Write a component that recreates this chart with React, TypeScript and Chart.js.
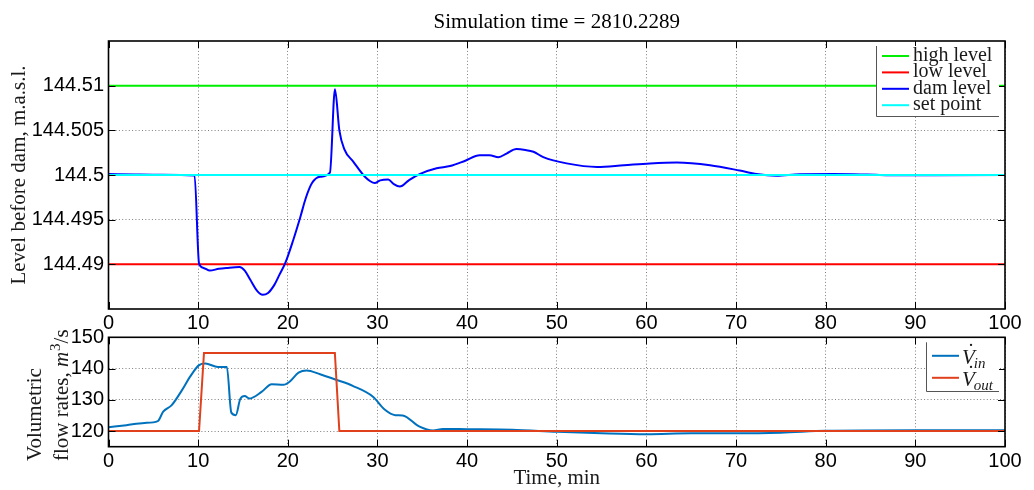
import React, { useEffect, useRef } from 'react';
import { Chart, registerables } from 'chart.js';

Chart.register(...registerables);

// ---------- data ----------
const TITLE = 'Simulation time = 2810.2289';
const X_TICKS = [0, 10, 20, 30, 40, 50, 60, 70, 80, 90, 100];
const LEVEL_TICKS = [144.49, 144.495, 144.5, 144.505, 144.51];
const FLOW_TICKS = [120, 130, 140, 150];
const LEVEL_Y_TITLE = 'Level before dam, m.a.s.l.';
const X_TITLE = 'Time, min';

const HIGH_LEVEL = 144.51;
const LOW_LEVEL = 144.49;
const SET_POINT = 144.5;

const damTime = [0, 3, 6, 9.6, 10.1, 10.6, 11.3, 12.3, 13.2, 14.6, 15.2, 15.8, 16.6, 17.2, 17.8, 18.5, 19.1, 19.7, 20.6, 21.4, 22.0, 22.7, 23.6, 24.7, 25.26, 25.75, 26.3, 27.3, 28.6, 29.2, 29.7, 30.3, 31.2, 31.8, 32.5, 33.5, 34.7, 36.6, 38.1, 39.8, 41.4, 42.5, 43.5, 44.4, 45.5, 46.5, 47.4, 48.5, 51.1, 54.5, 57.5, 60.4, 63.4, 67.1, 70.4, 72.3, 74.5, 77.1, 80.8, 84.6, 88.3, 92, 100];
const damLevel = [144.5001, 144.50005, 144.50002, 144.49995, 144.4901, 144.4896, 144.4893, 144.4895, 144.4896, 144.4897, 144.4893, 144.4883, 144.487, 144.48659, 144.4868, 144.4877, 144.4889, 144.4901, 144.4927, 144.4953, 144.4974, 144.4991, 144.4998, 144.50026, 144.5096, 144.505, 144.5029, 144.5015, 144.4998, 144.4993, 144.4991, 144.4994, 144.4995, 144.499, 144.4987, 144.4994, 144.5001, 144.50075, 144.501, 144.5016, 144.5022, 144.5022, 144.502, 144.5024, 144.5029, 144.5028, 144.5026, 144.502, 144.5013, 144.5009, 144.5011, 144.5013, 144.5014, 144.5011, 144.5005, 144.5001, 144.49992, 144.50008, 144.5001, 144.50005, 144.49997, 144.49998, 144.5];

const vinTime = [0, 2, 4, 5.5, 6.1, 7.05, 8.2, 9.1, 10.1, 10.8, 12.2, 13.2, 13.7, 14.2, 14.7, 15.2, 15.7, 17.1, 18.2, 19.5, 20.2, 21.2, 22.1, 23.6, 25.3, 27.3, 29.5, 30.8, 32.0, 32.8, 34.7, 36.2, 37.3, 40, 45, 50, 55, 60, 65, 70, 75, 80, 90, 100];
const vinFlow = [121.2, 121.9, 122.6, 123.2, 126.2, 128.3, 133.1, 137.4, 141.1, 141.6, 140.5, 140.5, 125.9, 125.1, 130.3, 131.2, 130.4, 132.6, 135.0, 134.8, 135.8, 138.7, 139.4, 138.2, 136.5, 134.4, 131.0, 126.9, 125.1, 125.0, 121.4, 120.2, 120.7, 120.6, 120.4, 119.8, 119.3, 119.0, 119.3, 119.3, 119.5, 120.1, 120.3, 120.3];

const voutTime = [0, 10.1, 10.65, 25.25, 25.75, 100];
const voutFlow = [120, 120, 145, 145, 120, 120];

// ---------- style ----------
const SERIF = '"Liberation Serif", "DejaVu Serif", serif';
const SANS = '"Liberation Sans", Arial, sans-serif';
const TEXT = '#1a1a1a';
const GRID = 'rgba(0,0,0,0.5)';
const Y_AXIS_W = 108.5;
const TICK_SIZE = 20;

const pts = (xs: number[], ys: number[]) => xs.map((x, i) => ({ x, y: ys[i] }));

const framePlugin = {
  id: 'frame',
  afterDatasetsDraw(chart: any) {
    const { ctx, chartArea: a, scales } = chart;
    ctx.save();
    ctx.strokeStyle = '#000';
    ctx.lineWidth = 1;
    const L = 7;
    ctx.beginPath();
    scales.x.ticks.forEach((t: any) => {
      const px = Math.round(scales.x.getPixelForValue(t.value)) + 0.5;
      ctx.moveTo(px, a.bottom); ctx.lineTo(px, a.bottom - L);
      ctx.moveTo(px, a.top); ctx.lineTo(px, a.top + L);
    });
    scales.y.ticks.forEach((t: any) => {
      const py = Math.round(scales.y.getPixelForValue(t.value)) + 0.5;
      ctx.moveTo(a.left, py); ctx.lineTo(a.left + L, py);
      ctx.moveTo(a.right, py); ctx.lineTo(a.right - L, py);
    });
    ctx.stroke();
    ctx.lineWidth = 1.6;
    ctx.strokeRect(a.left, a.top, a.right - a.left, a.bottom - a.top);
    ctx.restore();
  },
};

const levelLegendPlugin = {
  id: 'levelLegend',
  afterDraw(chart: any) {
    const { ctx, chartArea: a } = chart;
    const left = a.right - 129, right = a.right - 6, top = a.top + 5, bottom = a.top + 75;
    ctx.save();
    ctx.fillStyle = '#fff';
    ctx.fillRect(left, top, right - left, bottom - top);
    ctx.strokeStyle = '#555';
    ctx.lineWidth = 1;
    ctx.beginPath();
    ctx.moveTo(Math.round(left) + 0.5, top);
    ctx.lineTo(Math.round(left) + 0.5, Math.round(bottom) + 0.5);
    ctx.lineTo(right, Math.round(bottom) + 0.5);
    ctx.stroke();
    chart.data.datasets.forEach((ds: any, i: number) => {
      const y = a.top + 15 + i * 16.4;
      ctx.strokeStyle = ds.borderColor;
      ctx.lineWidth = 2;
      ctx.beginPath();
      ctx.moveTo(left + 6, y); ctx.lineTo(left + 33, y);
      ctx.stroke();
      ctx.fillStyle = TEXT;
      ctx.font = `20px ${SERIF}`;
      ctx.textAlign = 'left';
      ctx.textBaseline = 'alphabetic';
      ctx.fillText(ds.label, left + 37, y + 5);
    });
    ctx.restore();
  },
};

const flowLegendPlugin = {
  id: 'flowLegend',
  afterDraw(chart: any) {
    const { ctx, chartArea: a } = chart;
    const left = a.right - 79, right = a.right - 6, top = a.top + 5, bottom = a.top + 54;
    ctx.save();
    ctx.fillStyle = '#fff';
    ctx.fillRect(left, top, right - left, bottom - top);
    ctx.strokeStyle = '#555';
    ctx.lineWidth = 1;
    ctx.beginPath();
    ctx.moveTo(Math.round(left) + 0.5, top);
    ctx.lineTo(Math.round(left) + 0.5, Math.round(bottom) + 0.5);
    ctx.lineTo(right, Math.round(bottom) + 0.5);
    ctx.stroke();
    chart.data.datasets.forEach((ds: any, i: number) => {
      const y = a.top + 18.5 + i * 22;
      ctx.strokeStyle = ds.borderColor;
      ctx.lineWidth = 2;
      ctx.beginPath();
      ctx.moveTo(left + 6, y); ctx.lineTo(left + 33, y);
      ctx.stroke();
      ctx.fillStyle = TEXT;
      ctx.textAlign = 'left';
      ctx.textBaseline = 'alphabetic';
      const x0 = left + 36;
      const yb = y + 8;
      ctx.font = `italic 21px ${SERIF}`;
      ctx.fillText('V', x0, yb);
      const w = ctx.measureText('V').width;
      ctx.font = `21px ${SERIF}`;
      ctx.fillText('\u02D9', x0 + w * 0.42, yb - 6);
      ctx.font = `italic 15px ${SERIF}`;
      ctx.fillText(ds.label, x0 + w - 1, yb + 4);
    });
    ctx.restore();
  },
};

const flowYTitlePlugin = {
  id: 'flowYTitle',
  afterDraw(chart: any) {
    const { ctx, chartArea: a } = chart;
    ctx.save();
    ctx.translate(a.left - 68, a.bottom + 14.3);
    ctx.rotate(-Math.PI / 2);
    ctx.fillStyle = TEXT;
    ctx.textAlign = 'left';
    ctx.textBaseline = 'alphabetic';
    ctx.font = `21px ${SERIF}`;
    ctx.fillText('Volumetric', 0, 0);
    const y2 = 27;
    let x = 0;
    const parts: [string, string, number][] = [
      ['flow rates, ', `21px ${SERIF}`, 0],
      ['m', `italic 21px ${SERIF}`, 0],
      ['3', `15px ${SERIF}`, -8],
      ['/s', `21px ${SERIF}`, 0],
    ];
    parts.forEach(([txt, font, dy]) => {
      ctx.font = font;
      ctx.fillText(txt, x, y2 + dy);
      x += ctx.measureText(txt).width + (txt === 'm' ? 1 : 0);
    });
    ctx.restore();
  },
};

const xScale = (height: number, padding: number, withTitle: boolean) => ({
  type: 'linear',
  min: 0,
  max: 100,
  afterBuildTicks: (s: any) => { s.ticks = X_TICKS.map((v) => ({ value: v })); },
  afterFit: (s: any) => { s.height = height; },
  grid: { color: GRID, lineWidth: 1, drawTicks: false },
  border: { display: false, dash: [1, 2.3] },
  ticks: { font: { family: SANS, size: TICK_SIZE }, color: '#000', padding, maxRotation: 0, autoSkip: false, callback: (v: any) => String(v) },
  title: withTitle
    ? { display: true, text: X_TITLE, color: TEXT, font: { family: SERIF, size: 21, lineHeight: 1 }, padding: { top: 0, bottom: 1 } }
    : { display: false },
});

const yScale = (min: number, max: number, ticks: number[], title: any) => ({
  type: 'linear',
  min,
  max,
  afterBuildTicks: (s: any) => { s.ticks = ticks.map((v) => ({ value: v })); },
  afterFit: (s: any) => { s.width = Y_AXIS_W; },
  grid: { color: GRID, lineWidth: 1, drawTicks: false },
  border: { display: false, dash: [1, 2.3] },
  ticks: { font: { family: SANS, size: TICK_SIZE }, color: '#000', padding: 4.5, callback: (v: any) => String(v) },
  title,
});

export default function App() {
  const ref1 = useRef<HTMLCanvasElement>(null);
  const ref2 = useRef<HTMLCanvasElement>(null);

  useEffect(() => {
    const common = {
      animation: false,
      responsive: false,
      devicePixelRatio: 1,
      elements: { point: { radius: 0 }, line: { borderWidth: 2 } },
    };

    const c1 = new Chart(ref1.current!, {
      type: 'line',
      data: {
        datasets: [
          { label: 'high level', data: pts([0, 100], [HIGH_LEVEL, HIGH_LEVEL]), borderColor: '#00EE00', pointRadius: 0, borderWidth: 2, order: 4 },
          { label: 'low level', data: pts([0, 100], [LOW_LEVEL, LOW_LEVEL]), borderColor: '#FF0000', pointRadius: 0, borderWidth: 2, order: 3 },
          { label: 'dam level', data: pts(damTime, damLevel), borderColor: '#0000FF', pointRadius: 0, borderWidth: 2, cubicInterpolationMode: 'monotone', order: 2 },
          { label: 'set point', data: pts([0, 100], [SET_POINT, SET_POINT]), borderColor: '#00FFFF', pointRadius: 0, borderWidth: 2, order: 1 },
        ],
      },
      options: {
        ...common,
        layout: { padding: { top: 0, left: 0, right: 29, bottom: 0 } },
        plugins: {
          legend: { display: false },
          tooltip: { enabled: false },
          title: {
            display: true,
            text: TITLE,
            fullSize: false,
            color: '#000',
            font: { family: SERIF, size: 21, weight: 'normal', lineHeight: 1.2 },
            padding: { top: 10, bottom: 5.8 },
          },
        },
        scales: {
          x: xScale(181, 2.5, false),
          y: yScale(144.485, 144.515, LEVEL_TICKS, {
            display: true,
            text: LEVEL_Y_TITLE,
            color: TEXT,
            font: { family: SERIF, size: 21, lineHeight: 1 },
            padding: { top: 8.5, bottom: 0 },
          }),
        },
      } as any,
      plugins: [framePlugin, levelLegendPlugin],
    });

    const c2 = new Chart(ref2.current!, {
      type: 'line',
      data: {
        datasets: [
          { label: 'in', data: pts(vinTime, vinFlow), borderColor: '#0072BD', pointRadius: 0, borderWidth: 2, cubicInterpolationMode: 'monotone', order: 2 },
          { label: 'out', data: pts(voutTime, voutFlow), borderColor: '#E0401C', pointRadius: 0, borderWidth: 2, order: 1 },
        ],
      },
      options: {
        ...common,
        layout: { padding: { top: 337.3, left: 0, right: 29, bottom: 0 } },
        plugins: { legend: { display: false }, tooltip: { enabled: false }, title: { display: false } },
        scales: {
          x: xScale(43.3, 3, true),
          y: yScale(115, 150, FLOW_TICKS, { display: false }),
        },
      } as any,
      plugins: [framePlugin, flowLegendPlugin, flowYTitlePlugin],
    });

    return () => {
      c1.destroy();
      c2.destroy();
    };
  }, []);

  const cs: React.CSSProperties = { position: 'absolute', left: 0, top: 0, width: 1034, height: 490 };
  return (
    <div style={{ position: 'absolute', left: 0, top: 0, width: 1034, height: 490, background: '#fff' }}>
      <canvas ref={ref1} width={1034} height={490} style={cs} />
      <canvas ref={ref2} width={1034} height={490} style={cs} />
    </div>
  );
}
